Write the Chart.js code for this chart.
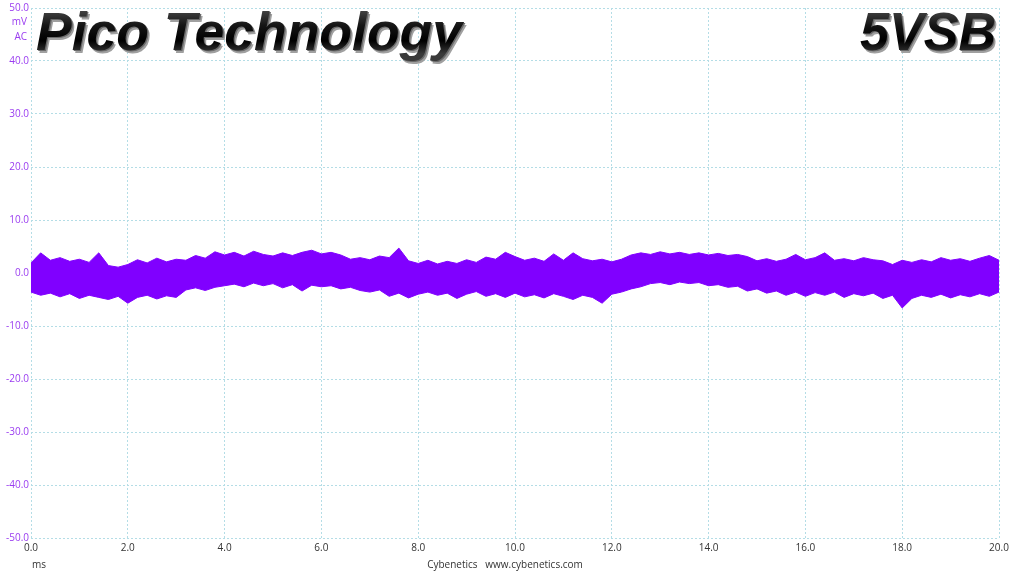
<!DOCTYPE html>
<html>
<head>
<meta charset="utf-8">
<script src="https://cdn.jsdelivr.net/npm/chart.js@4.4.1/dist/chart.umd.min.js"></script>
<style>
  body { margin: 0; background: #fff; }
  #wrap { width: 1015px; height: 571px; }
</style>
</head>
<body>
<div id="wrap"><canvas id="rippleChart" width="1015" height="571"></canvas></div>
<script>
// time axis (ms)
const times = [0.0, 0.2, 0.4, 0.6, 0.8, 1.0, 1.2, 1.4, 1.6, 1.8, 2.0, 2.2, 2.4, 2.6, 2.8, 3.0, 3.2, 3.4, 3.6, 3.8,
    4.0, 4.2, 4.4, 4.6, 4.8, 5.0, 5.2, 5.4, 5.6, 5.8, 6.0, 6.2, 6.4, 6.6, 6.8, 7.0, 7.2, 7.4, 7.6, 7.8,
    8.0, 8.2, 8.4, 8.6, 8.8, 9.0, 9.2, 9.4, 9.6, 9.8, 10.0, 10.2, 10.4, 10.6, 10.8, 11.0, 11.2, 11.4, 11.6, 11.8,
    12.0, 12.2, 12.4, 12.6, 12.8, 13.0, 13.2, 13.4, 13.6, 13.8, 14.0, 14.2, 14.4, 14.6, 14.8, 15.0, 15.2, 15.4, 15.6, 15.8,
    16.0, 16.2, 16.4, 16.6, 16.8, 17.0, 17.2, 17.4, 17.6, 17.8, 18.0, 18.2, 18.4, 18.6, 18.8, 19.0, 19.2, 19.4, 19.6, 19.8, 20.0];

// upper edge of the ripple band (mV)
const rippleMax = [1.9, 3.8, 2.4, 2.9, 2.2, 2.6, 2.0, 3.8, 1.4, 1.1, 1.6, 2.5, 1.9, 2.8, 2.1, 2.6, 2.4, 3.3, 2.8, 4.0,
    3.4, 3.9, 3.2, 4.1, 3.5, 3.2, 3.8, 3.3, 3.9, 4.3, 3.6, 3.9, 3.4, 2.6, 2.9, 2.5, 3.2, 2.9, 4.7, 2.3,
    1.8, 2.4, 1.7, 2.2, 1.8, 2.5, 2.0, 3.0, 2.6, 3.9, 3.1, 2.4, 2.8, 2.2, 3.6, 2.4, 3.8, 2.7, 2.3, 2.6,
    2.1, 2.6, 3.4, 3.8, 3.5, 4.0, 3.6, 3.9, 3.5, 3.8, 3.4, 3.7, 3.3, 3.5, 3.1, 2.3, 2.7, 2.2, 2.6, 3.5,
    2.5, 2.9, 3.8, 2.4, 2.7, 2.3, 2.9, 2.5, 2.3, 1.6, 2.4, 2.0, 2.5, 2.1, 2.9, 2.4, 2.7, 2.2, 2.8, 3.3, 2.4];

// lower edge of the ripple band (mV)
const rippleMin = [-3.6, -4.2, -3.8, -4.5, -3.9, -4.8, -4.2, -4.6, -5.0, -4.4, -5.7, -4.6, -4.2, -4.9, -4.3, -4.6, -3.2, -2.8, -3.3, -2.7,
    -2.4, -2.1, -2.6, -1.9, -2.4, -2.0, -2.8, -2.2, -3.4, -2.3, -2.6, -2.4, -3.0, -2.7, -3.3, -3.6, -3.2, -4.4, -3.8, -4.7,
    -4.0, -3.6, -4.2, -3.8, -4.8, -4.0, -3.5, -4.4, -3.9, -4.6, -3.8, -4.5, -4.1, -4.7, -3.9, -4.4, -5.0, -4.2, -4.6, -5.7,
    -4.0, -3.6, -3.0, -2.6, -2.0, -1.8, -2.2, -1.7, -2.0, -1.8, -2.4, -2.2, -2.7, -2.5, -3.4, -3.0, -3.8, -3.4, -4.2, -3.6,
    -4.4, -3.7, -4.2, -3.6, -4.6, -3.9, -4.3, -3.8, -4.8, -4.2, -6.6, -4.8, -4.2, -4.6, -4.0, -4.7, -4.1, -4.5, -3.9, -4.4, -3.6];

const yMin = -50, yMax = 50, yStep = 10;
const xMin = 0, xMax = 20, xStep = 2;

const traceColor = '#8000ff';
const gridColor = '#b4dde6';

const titlePlugin = {
    id: 'scopeTitles',
    afterDraw(chart) {
        const ctx = chart.ctx;
        ctx.save();

        // unit label on the y axis
        ctx.fillStyle = '#9a3cf0';
        ctx.font = '10px "Open Sans", sans-serif';
        ctx.textAlign = 'right';
        ctx.textBaseline = 'middle';
        ctx.fillText('mV', 27, 22);
        ctx.fillText('AC', 27, 37);

        // footer
        ctx.fillStyle = '#333';
        ctx.textAlign = 'left';
        ctx.fillText('ms', 32, 565);
        ctx.textAlign = 'center';
        ctx.fillText('Cybenetics   www.cybenetics.com', 505, 565);

        // big shaded headings
        function bigText(txt, x, align, width) {
            ctx.font = 'italic bold 54px "Liberation Sans", Arial, sans-serif';
            const w = ctx.measureText(txt).width;
            ctx.save();
            ctx.textAlign = 'left';
            ctx.textBaseline = 'alphabetic';
            const left = align === 'right' ? x - width : x;
            ctx.translate(left, 50);
            ctx.scale(width / w, 1);
            ctx.fillStyle = '#a0a0a0';
            ctx.fillText(txt, 2.5, 2.5);
            ctx.fillStyle = '#6a6a6a';
            ctx.fillText(txt, 1.2, 1.2);
            const g = ctx.createLinearGradient(0, -40, 0, 4);
            g.addColorStop(0, '#444');
            g.addColorStop(0.35, '#151515');
            g.addColorStop(0.7, '#000');
            g.addColorStop(1, '#3a3a3a');
            ctx.fillStyle = g;
            ctx.fillText(txt, 0, 0);
            ctx.restore();
        }
        bigText('Pico Technology', 36, 'left', 426);
        bigText('5VSB', 996, 'right', 136);

        ctx.restore();
    }
};

const ctx = document.getElementById('rippleChart').getContext('2d');
const rippleChart = new Chart(ctx, {
    type: 'line',
    data: {
        datasets: [{
            label: 'max',
            data: times.map((t, i) => ({ x: t, y: rippleMax[i] })),
            borderColor: traceColor,
            backgroundColor: traceColor,
            borderWidth: 1,
            pointRadius: 0,
            tension: 0,
            fill: '+1'
        }, {
            label: 'min',
            data: times.map((t, i) => ({ x: t, y: rippleMin[i] })),
            borderColor: traceColor,
            backgroundColor: traceColor,
            borderWidth: 1,
            pointRadius: 0,
            tension: 0,
            fill: false
        }]
    },
    options: {
        responsive: false,
        animation: false,
        layout: { padding: { top: 8, right: 16, left: 0, bottom: 0 } },
        plugins: {
            legend: { display: false },
            tooltip: { enabled: false }
        },
        scales: {
            x: {
                type: 'linear',
                min: xMin,
                max: xMax,
                afterFit(scale) { scale.height = 33; },
                ticks: {
                    stepSize: xStep,
                    color: '#333',
                    font: { family: '"Open Sans", sans-serif', size: 10 },
                    padding: 4,
                    maxRotation: 0,
                    callback: v => v.toFixed(1)
                },
                grid: { color: gridColor, drawTicks: false },
                border: { display: false, dash: [2, 2] }
            },
            y: {
                min: yMin,
                max: yMax,
                afterFit(scale) { scale.width = 31; },
                ticks: {
                    stepSize: yStep,
                    color: '#9a3cf0',
                    font: { family: '"Open Sans", sans-serif', size: 10 },
                    padding: 2,
                    callback: v => v.toFixed(1)
                },
                grid: { color: gridColor, drawTicks: false },
                border: { display: false, dash: [2, 2] }
            }
        }
    },
    plugins: [titlePlugin]
});
</script>
</body>
</html>
